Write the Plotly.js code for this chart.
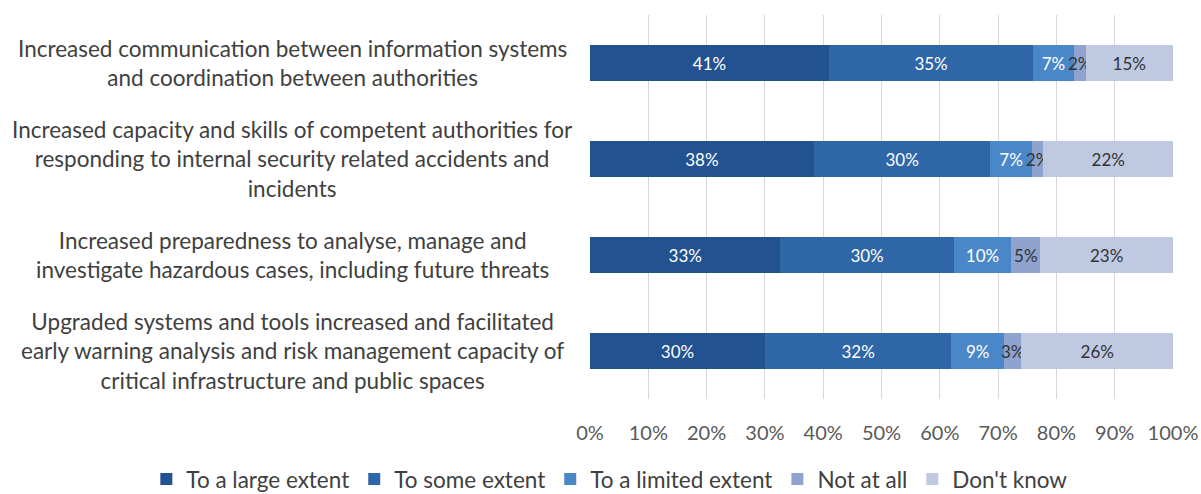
<!DOCTYPE html>
<html>
<head>
<meta charset="utf-8">
<script src="https://cdn.plot.ly/plotly-3.0.1.min.js"></script>
<style>html,body{margin:0;padding:0;background:#fff;}#chart{width:1201px;height:494px;}</style>
</head>
<body>
<div id="chart"></div>
<script>
const categories = [
  "Increased communication between information systems<br>and coordination between authorities",
  "Increased capacity and skills of competent authorities for<br>responding to internal security related accidents and<br>incidents",
  "Increased preparedness to analyse, manage and<br>investigate hazardous cases, including future threats",
  "Upgraded systems and tools increased and facilitated<br>early warning analysis and risk management capacity of<br>critical infrastructure and public spaces"
];
const seriesNames = ["To a large extent", "To some extent", "To a limited extent", "Not at all", "Don't know"];
const largeExtent = [41, 38, 33, 30];
const someExtent = [35, 30, 30, 32];
const limitedExtent = [7, 7, 10, 9];
const notAtAll = [2, 2, 5, 3];
const dontKnow = [15, 22, 23, 26];
const tickVals = [0, 10, 20, 30, 40, 50, 60, 70, 80, 90, 100];
const tickText = ["0%", "10%", "20%", "30%", "40%", "50%", "60%", "70%", "80%", "90%", "100%"];

const colors = ["#22528f", "#2f66a8", "#4a87c8", "#8ea3cd", "#bfc9e2"];
const textColors = ["#ffffff", "#ffffff", "#ffffff", "#333333", "#333333"];
const allSeries = [largeExtent, someExtent, limitedExtent, notAtAll, dontKnow];
const FONT = "Lato, Noto Sans, sans-serif";

const idx = categories.map((c, i) => i);
const traces = allSeries.map((vals, s) => ({
  type: "bar",
  orientation: "h",
  name: seriesNames[s],
  y: idx,
  x: vals,
  text: vals.map(v => v + "%"),
  textposition: "inside",
  insidetextanchor: "middle",
  textangle: 0,
  constraintext: "none",
  textfont: {family: FONT, size: 17, color: textColors[s]},
  marker: {color: colors[s], line: {width: 0}},
  hoverinfo: "none"
}));

const annotations = categories.map((c, i) => ({
  xref: "paper", yref: "y",
  x: -0.51, y: i,
  xanchor: "center", yanchor: "middle",
  text: c, showarrow: false, align: "center",
  font: {family: FONT, size: 22.5, color: "#404040"}
}));

const layout = {
  width: 1201, height: 494,
  margin: {l: 590, r: 28, t: 15, b: 95, autoexpand: false},
  barmode: "stack",
  barnorm: "percent",
  bargap: 0.625,
  showlegend: true,
  legend: {
    orientation: "h", xref: "paper", x: -0.761, xanchor: "left",
    yref: "paper", y: -0.265, yanchor: "bottom",
    font: {family: FONT, size: 22.5, color: "#404040"},
    traceorder: "normal", itemwidth: 30
  },
  xaxis: {
    range: [0, 100], tickvals: tickVals, ticktext: tickText,
    showgrid: true, gridcolor: "#d9d9d9", gridwidth: 1,
    zeroline: false, showline: false,
    ticklabelstandoff: 20,
    tickfont: {family: FONT, size: 20, color: "#595959"},
    fixedrange: true
  },
  yaxis: {
    range: [3.5, -0.5], showticklabels: false, showgrid: false,
    zeroline: false, fixedrange: true
  },
  annotations: annotations,
  plot_bgcolor: "#ffffff", paper_bgcolor: "#ffffff"
};

Plotly.newPlot("chart", traces, layout, {displayModeBar: false, staticPlot: true});
</script>
</body>
</html>
